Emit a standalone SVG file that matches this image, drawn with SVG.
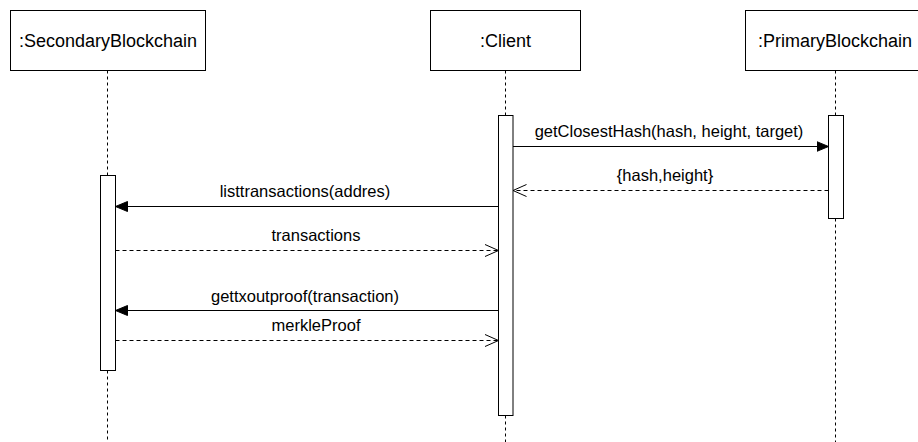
<svg xmlns="http://www.w3.org/2000/svg" width="918" height="442" viewBox="0 0 918 442">
  <style>
    .box { fill: #ffffff; stroke: #000000; stroke-width: 1; }
    .life { stroke: #000000; stroke-width: 1; stroke-dasharray: 3 3; fill: none; }
    .act { fill: #ffffff; stroke: #000000; stroke-width: 1; }
    .name { font-family: "Liberation Sans", Arial, sans-serif; font-size: 18px; fill: #000000; text-anchor: middle; }
    .lbl { font-family: "Liberation Sans", Arial, sans-serif; font-size: 16.5px; fill: #000000; text-anchor: middle; }
    .call { stroke: #000000; stroke-width: 1; fill: none; marker-end: url(#filled); }
    .ret { stroke: #000000; stroke-width: 1; fill: none; stroke-dasharray: 4 3; marker-end: url(#open); }
  </style>
  <defs>
    <marker id="filled" markerUnits="userSpaceOnUse" markerWidth="14" markerHeight="12" refX="12" refY="6" orient="auto" viewBox="0 0 14 12">
      <path d="M0,1 L12,6 L0,11 Z" fill="#000000" stroke="#000000" stroke-width="1"/>
    </marker>
    <marker id="open" markerUnits="userSpaceOnUse" markerWidth="16" markerHeight="14" refX="14.5" refY="7" orient="auto" viewBox="0 0 16 14">
      <path d="M1,1 L14.5,7 L1,13" fill="none" stroke="#000000" stroke-width="1"/>
    </marker>
  </defs>
  <rect width="918" height="442" fill="#ffffff"/>

  <g id="secondary">
    <line class="life" x1="107.5" y1="70.5" x2="107.5" y2="175.5"/>
    <line class="life" x1="107.5" y1="370.5" x2="107.5" y2="442"/>
    <rect class="box" x="10.5" y="10.5" width="195" height="60"/>
    <text class="name" x="108" y="47">:SecondaryBlockchain</text>
    <rect class="act" x="100.5" y="175.5" width="15" height="195"/>
  </g>

  <g id="client">
    <line class="life" x1="505.5" y1="70.5" x2="505.5" y2="115.5"/>
    <line class="life" x1="505.5" y1="415.5" x2="505.5" y2="442"/>
    <rect class="box" x="430.5" y="10.5" width="150" height="60"/>
    <text class="name" x="505.5" y="47">:Client</text>
    <rect class="act" x="498.5" y="115.5" width="14.5" height="300"/>
  </g>

  <g id="primary">
    <line class="life" x1="835.5" y1="70.5" x2="835.5" y2="115.5"/>
    <line class="life" x1="835.5" y1="218.5" x2="835.5" y2="442"/>
    <rect class="box" x="745.5" y="10.5" width="180" height="60"/>
    <text class="name" x="835" y="47">:PrimaryBlockchain</text>
    <rect class="act" x="828.5" y="115.5" width="15" height="103"/>
  </g>

  <g id="connectors">
    <line class="call" x1="513" y1="146.5" x2="828.5" y2="146.5"/>
    <text class="lbl" x="669" y="136.5">getClosestHash(hash, height, target)</text>

    <line class="ret" x1="828.5" y1="190.5" x2="513" y2="190.5"/>
    <text class="lbl" x="665" y="181">{hash,height}</text>

    <line class="call" x1="498.5" y1="206.5" x2="115.5" y2="206.5"/>
    <text class="lbl" x="305" y="197">listtransactions(addres)</text>

    <line class="ret" x1="115.5" y1="250.5" x2="498.5" y2="250.5"/>
    <text class="lbl" x="316" y="241">transactions</text>

    <line class="call" x1="498.5" y1="310.5" x2="115.5" y2="310.5"/>
    <text class="lbl" x="305" y="301.5">gettxoutproof(transaction)</text>

    <line class="ret" x1="115.5" y1="340.5" x2="498.5" y2="340.5"/>
    <text class="lbl" x="316" y="331">merkleProof</text>
  </g>
</svg>
